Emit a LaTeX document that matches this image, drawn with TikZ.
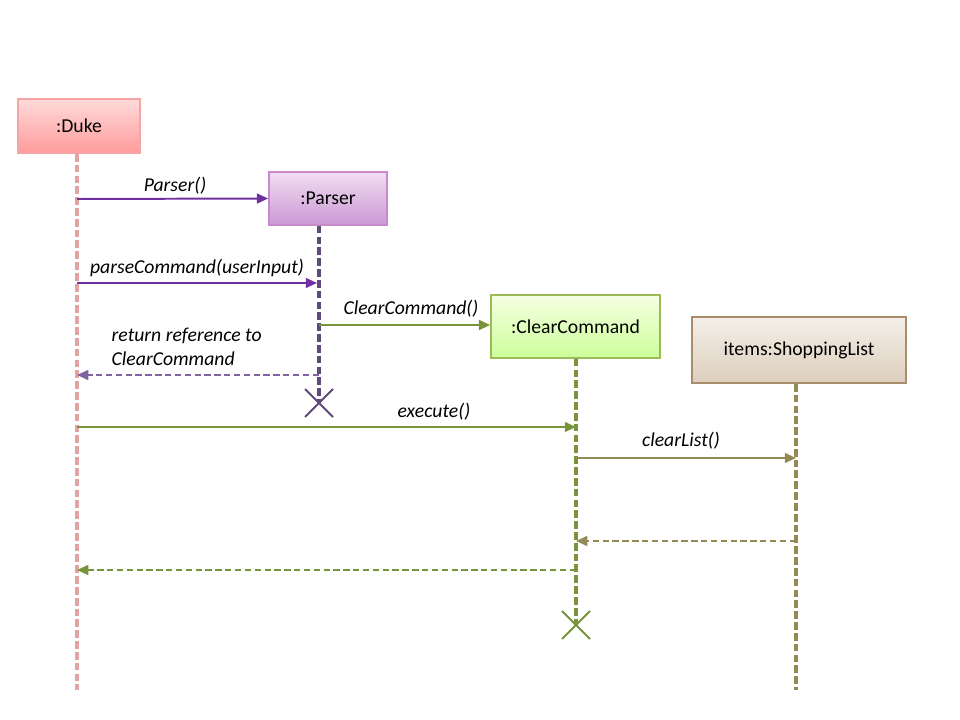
\documentclass[tikz,border=0pt]{standalone}
\usepackage{fontspec}
\setmainfont{Carlito}
\usetikzlibrary{arrows.meta,calc,positioning}

\definecolor{dukeTop}{HTML}{FFDADA}
\definecolor{dukeBot}{HTML}{FF9C9C}
\definecolor{dukeDraw}{HTML}{F5A3A3}
\definecolor{dukeLife}{HTML}{E3A3A3}
\definecolor{parTop}{HTML}{F0DDF0}
\definecolor{parBot}{HTML}{CC99D6}
\definecolor{parDraw}{HTML}{C98ACC}
\definecolor{parLife}{HTML}{5F497A}
\definecolor{parMsg}{HTML}{7030A0}
\definecolor{parRet}{HTML}{8064A2}
\definecolor{clrTop}{HTML}{F5FFE3}
\definecolor{clrBot}{HTML}{CCFF99}
\definecolor{clrDraw}{HTML}{9BBB59}
\definecolor{clrLife}{HTML}{77933C}
\definecolor{lstTop}{HTML}{F4EFE8}
\definecolor{lstBot}{HTML}{DCCFBD}
\definecolor{lstDraw}{HTML}{A88E6C}
\definecolor{lstLife}{HTML}{948A54}

\begin{document}
\begin{tikzpicture}[
  x=0.025cm, y=-0.025cm,
  obj/.style={rectangle, draw, line width=1.2pt, align=center,
              font=\fontsize{14}{17}\selectfont},
  label/.style={font=\fontsize{14}{17}\selectfont\itshape, inner sep=1pt},
  life/.style={draw=#1, line width=2.2pt, dash pattern=on 5.5pt off 2.2pt},
  msg/.style={draw=#1, line width=1.4pt, -{Triangle[length=8pt,width=7pt]}},
  ret/.style={draw=#1, line width=1.4pt, dash pattern=on 4.5pt off 2.5pt,
              -{Triangle[length=8pt,width=7pt]}},
  kill/.style={draw=#1, line width=1.4pt},
]
  \useasboundingbox (0,0) rectangle (960,720);

  % Objects
  \node[obj, draw=dukeDraw, top color=dukeTop, bottom color=dukeBot,
        minimum width=3.05cm, minimum height=1.35cm] (duke) at (79,126) {:Duke};
  \node[obj, draw=parDraw, top color=parTop, bottom color=parBot,
        minimum width=2.95cm, minimum height=1.32cm] (parser) at (328,198.5) {:Parser};
  \node[obj, draw=clrDraw, top color=clrTop, bottom color=clrBot,
        minimum width=4.22cm, minimum height=1.57cm] (clear) at (575.5,326.5) {:ClearCommand};
  \node[obj, draw=lstDraw, top color=lstTop, bottom color=lstBot,
        minimum width=5.35cm, minimum height=1.65cm] (list) at (799,350) {items:ShoppingList};

  % Lifeline ends
  \coordinate (duke-end) at (77,690);
  \coordinate (parser-end) at (319,403);
  \coordinate (clear-end) at (576,625);
  \coordinate (list-end) at (796,690);

  % Lifelines
  \draw[life=dukeLife] (duke.south -| duke-end) -- (duke-end);
  \draw[life=parLife] (parser.south -| parser-end) -- (parser-end);
  \draw[life=clrLife] (clear.south -| clear-end) -- (clear-end);
  \draw[life=lstLife] (list.south -| list-end) -- (list-end);

  % Message anchors
  \coordinate (d1) at (77,199);
  \coordinate (d2) at (77,283);   \coordinate (p2) at (317,283);
  \coordinate (p3) at (319,325);
  \coordinate (d4) at (77,375);   \coordinate (p4) at (319,375);
  \coordinate (d5) at (77,427);   \coordinate (c5) at (576,427);
  \coordinate (c6) at (576,458);  \coordinate (l6) at (796,458);
  \coordinate (c7) at (576,541);  \coordinate (l7) at (796,541);
  \coordinate (d8) at (77,570);   \coordinate (c8) at (576,570);

  % Messages
  \draw[msg=parMsg] (d1) -- (parser.west);
  \node[label] (lbl-parser) at (175,186) {Parser()};
  \draw[msg=parMsg] (d2) -- (p2);
  \node[label] (lbl-parse) at (197,268) {parseCommand(userInput)};
  \draw[msg=clrLife] (p3) -- (p3 -| clear.west);
  \node[label] (lbl-clear) at (411,309) {ClearCommand()};
  \draw[ret=parRet] (p4) -- (d4);
  \node[label, align=left, anchor=west] (lbl-ret) at (110,347)
       {return reference to\\ClearCommand};
  \draw[msg=clrLife] (d5) -- (c5);
  \node[label] (lbl-exec) at (434,412) {execute()};
  \draw[msg=lstLife] (c6) -- (l6);
  \node[label] (lbl-list) at (681,441) {clearList()};
  \draw[ret=lstLife] (l7) -- (c7);
  \draw[ret=clrLife] (c8) -- (d8);

  % Destruction marks
  \draw[kill=parLife] ($(parser-end)+(-14,-14)$) -- ($(parser-end)+(14,14)$)
                      ($(parser-end)+(-14,14)$) -- ($(parser-end)+(14,-14)$);
  \draw[kill=clrLife] ($(clear-end)+(-14,-14)$) -- ($(clear-end)+(14,14)$)
                      ($(clear-end)+(-14,14)$) -- ($(clear-end)+(14,-14)$);
\end{tikzpicture}
\end{document}
